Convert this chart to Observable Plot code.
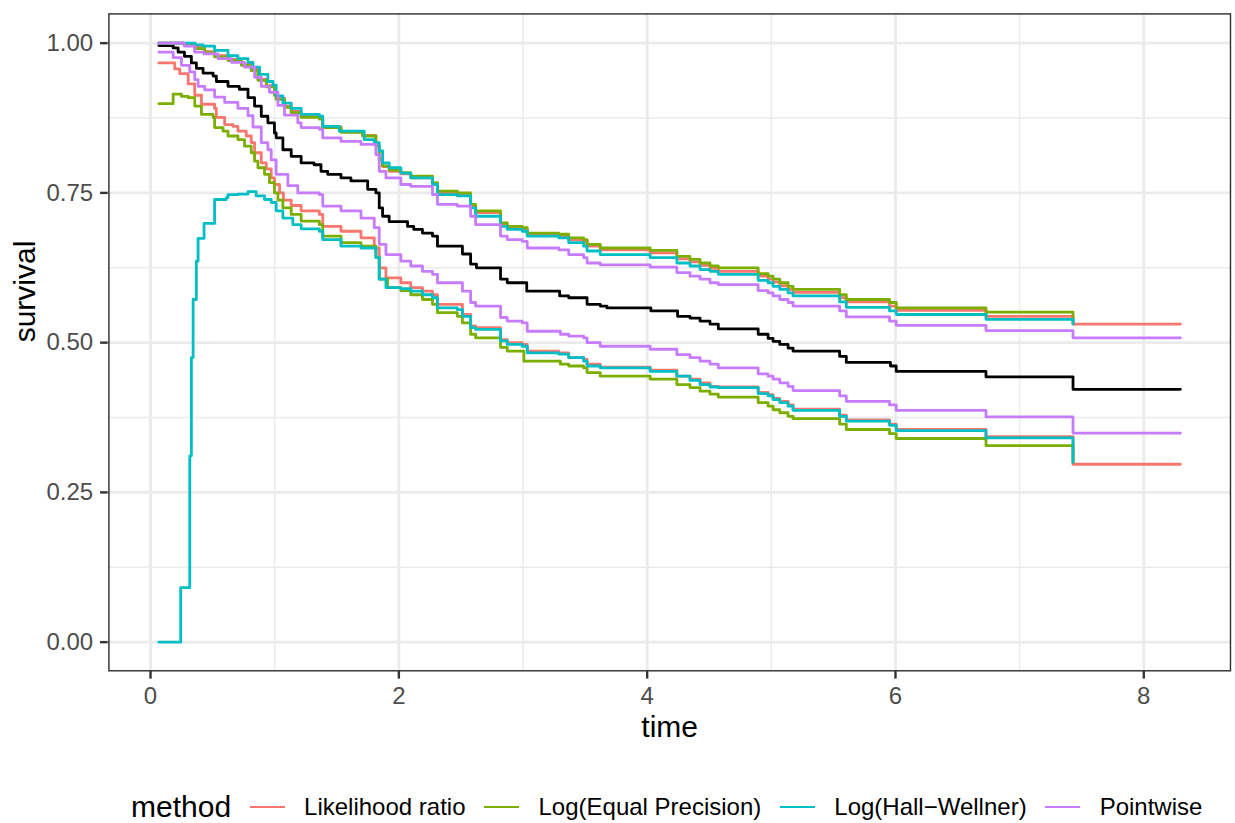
<!DOCTYPE html>
<html>
<head>
<meta charset="utf-8">
<script src="https://cdn.jsdelivr.net/npm/d3@7"></script>
<script src="https://cdn.jsdelivr.net/npm/@observablehq/plot@0.6"></script>
<style>
  html, body { margin: 0; padding: 0; background: #ffffff; overflow: hidden; }
  #wrap { width: 1235px; font-family: "Liberation Sans", Arial, sans-serif; }
  #legend { display: flex; align-items: center; height: 74px; padding-left: 131px; box-sizing: border-box; }
  #legend .title { font-size: 30px; color: #000; margin-right: 14px; line-height: 0.95; }
  #legend .key { width: 44px; height: 20px; display: flex; align-items: center; justify-content: center; }
  #legend .key span { display: block; width: 35px; height: 2.9px; }
  #legend .lab { font-size: 24px; color: #000; margin-left: 15px; margin-right: 14px; line-height: 1; white-space: nowrap; }
</style>
</head>
<body>
<div id="wrap">
  <div id="chart"></div>
  <div id="legend"></div>
</div>
<script>
// ---------- data ----------
const methods = ["Likelihood ratio", "Log(Equal Precision)", "Log(Hall−Wellner)", "Pointwise"];
const methodColors = ["#F8766D", "#7CAE00", "#00BFC4", "#C77CFF"];

const xTicks = [0, 2, 4, 6, 8];
const xMinorTicks = [1, 3, 5, 7];
const yTicks = [0, 0.25, 0.5, 0.75, 1];
const yMinorTicks = [0.125, 0.375, 0.625, 0.875];

// Kaplan–Meier estimate (black)
const km = [[0.067,0.996],[0.182,0.992],[0.222,0.985],[0.273,0.978],[0.329,0.967],[0.369,0.958],[0.423,0.950],[0.504,0.945],[0.530,0.936],[0.624,0.928],[0.715,0.923],[0.785,0.909],[0.838,0.895],[0.892,0.878],[0.945,0.867],[0.998,0.850],[1.012,0.842],[1.066,0.822],[1.133,0.811],[1.213,0.800],[1.317,0.797],[1.373,0.786],[1.427,0.781],[1.534,0.775],[1.614,0.770],[1.749,0.756],[1.815,0.750],[1.842,0.725],[1.869,0.711],[1.922,0.702],[2.070,0.694],[2.120,0.689],[2.190,0.683],[2.271,0.678],[2.311,0.661],[2.512,0.648],[2.578,0.631],[2.625,0.625],[2.819,0.606],[2.873,0.600],[3.030,0.586],[3.295,0.578],[3.368,0.575],[3.516,0.564],[3.622,0.561],[3.676,0.558],[4.030,0.553],[4.245,0.544],[4.345,0.541],[4.426,0.536],[4.506,0.531],[4.573,0.523],[4.894,0.514],[4.974,0.507],[5.014,0.502],[5.068,0.497],[5.135,0.491],[5.175,0.486],[5.550,0.477],[5.604,0.467],[5.960,0.461],[6.006,0.452],[6.729,0.443],[7.430,0.422],[8.295,0.422]];

// Likelihood ratio band
const lrLower = [[0.067,0.967],[0.195,0.957],[0.235,0.949],[0.303,0.932],[0.356,0.913],[0.410,0.898],[0.516,0.891],[0.530,0.876],[0.597,0.864],[0.664,0.861],[0.704,0.853],[0.771,0.845],[0.811,0.834],[0.838,0.817],[0.892,0.800],[0.932,0.790],[0.972,0.775],[0.998,0.764],[1.039,0.750],[1.070,0.738],[1.133,0.729],[1.213,0.720],[1.360,0.714],[1.387,0.694],[1.534,0.686],[1.695,0.675],[1.802,0.658],[1.842,0.625],[1.896,0.608],[2.016,0.600],[2.096,0.592],[2.190,0.586],[2.271,0.580],[2.311,0.564],[2.512,0.547],[2.578,0.528],[2.618,0.525],[2.819,0.505],[2.873,0.500],[2.994,0.497],[3.034,0.486],[3.288,0.483],[3.368,0.475],[3.488,0.472],[3.516,0.464],[3.622,0.459],[4.024,0.454],[4.239,0.444],[4.345,0.439],[4.426,0.433],[4.506,0.427],[4.573,0.426],[4.894,0.417],[4.974,0.413],[5.014,0.407],[5.068,0.402],[5.135,0.396],[5.175,0.389],[5.550,0.379],[5.604,0.371],[5.952,0.364],[6.006,0.355],[6.729,0.343],[7.430,0.297],[8.295,0.297]];
const lrUpper = [[0.067,1.000],[0.263,0.999],[0.356,0.993],[0.436,0.986],[0.516,0.979],[0.624,0.973],[0.731,0.965],[0.811,0.956],[0.865,0.940],[0.932,0.929],[0.998,0.915],[1.012,0.908],[1.079,0.895],[1.133,0.886],[1.213,0.878],[1.360,0.874],[1.387,0.860],[1.534,0.852],[1.708,0.846],[1.815,0.829],[1.842,0.805],[1.869,0.794],[1.922,0.786],[2.016,0.782],[2.096,0.775],[2.271,0.764],[2.311,0.750],[2.471,0.747],[2.578,0.728],[2.618,0.717],[2.819,0.697],[2.873,0.691],[2.994,0.689],[3.034,0.680],[3.288,0.678],[3.368,0.672],[3.488,0.669],[3.516,0.661],[3.622,0.655],[4.024,0.650],[4.239,0.640],[4.345,0.635],[4.426,0.629],[4.506,0.624],[4.573,0.619],[4.894,0.611],[4.974,0.606],[5.014,0.601],[5.068,0.595],[5.135,0.589],[5.175,0.584],[5.550,0.575],[5.604,0.568],[5.952,0.561],[6.006,0.554],[6.729,0.544],[7.430,0.531],[8.295,0.531]];

// Log (Equal Precision) band
const epLower = [[0.067,0.899],[0.182,0.915],[0.249,0.911],[0.303,0.909],[0.356,0.895],[0.410,0.881],[0.504,0.876],[0.516,0.859],[0.584,0.853],[0.624,0.845],[0.704,0.839],[0.757,0.828],[0.811,0.817],[0.838,0.803],[0.865,0.792],[0.918,0.781],[0.958,0.767],[0.998,0.750],[1.026,0.738],[1.066,0.725],[1.133,0.714],[1.213,0.703],[1.360,0.697],[1.387,0.678],[1.534,0.667],[1.695,0.661],[1.815,0.642],[1.842,0.606],[1.909,0.592],[2.016,0.587],[2.096,0.580],[2.190,0.572],[2.271,0.564],[2.311,0.550],[2.471,0.544],[2.512,0.533],[2.578,0.514],[2.618,0.508],[2.819,0.492],[2.873,0.486],[3.007,0.469],[3.301,0.464],[3.368,0.461],[3.488,0.458],[3.516,0.450],[3.622,0.444],[4.024,0.439],[4.239,0.430],[4.345,0.425],[4.426,0.419],[4.506,0.414],[4.573,0.409],[4.894,0.400],[4.974,0.394],[5.014,0.388],[5.068,0.383],[5.135,0.377],[5.175,0.373],[5.550,0.364],[5.604,0.355],[5.952,0.348],[6.006,0.340],[6.729,0.328],[7.430,0.300]];
const epUpper = [[0.067,1.000],[0.263,0.998],[0.356,0.991],[0.436,0.984],[0.516,0.977],[0.624,0.971],[0.731,0.963],[0.811,0.954],[0.865,0.938],[0.932,0.927],[0.998,0.913],[1.012,0.906],[1.079,0.893],[1.133,0.884],[1.213,0.876],[1.360,0.873],[1.387,0.859],[1.534,0.851],[1.708,0.845],[1.815,0.828],[1.842,0.805],[1.869,0.795],[1.922,0.788],[2.016,0.784],[2.096,0.778],[2.271,0.767],[2.311,0.753],[2.471,0.750],[2.578,0.731],[2.618,0.720],[2.819,0.700],[2.873,0.694],[2.994,0.692],[3.034,0.683],[3.288,0.681],[3.368,0.675],[3.488,0.672],[3.516,0.664],[3.622,0.658],[4.024,0.654],[4.239,0.644],[4.345,0.639],[4.426,0.633],[4.506,0.628],[4.573,0.625],[4.894,0.615],[4.974,0.611],[5.014,0.606],[5.068,0.600],[5.135,0.594],[5.175,0.589],[5.550,0.580],[5.604,0.572],[5.952,0.567],[6.006,0.558],[6.729,0.551],[7.430,0.532]];

// Log (Hall–Wellner) band
const hwLower = [[0.067,0.000],[0.243,0.091],[0.316,0.311],[0.329,0.475],[0.343,0.572],[0.369,0.636],[0.383,0.674],[0.431,0.699],[0.516,0.739],[0.610,0.742],[0.624,0.747],[0.704,0.748],[0.785,0.752],[0.851,0.745],[0.918,0.739],[0.972,0.734],[1.012,0.720],[1.066,0.708],[1.146,0.697],[1.213,0.690],[1.360,0.686],[1.387,0.672],[1.534,0.661],[1.695,0.658],[1.815,0.642],[1.842,0.606],[1.896,0.592],[2.016,0.590],[2.096,0.586],[2.190,0.580],[2.271,0.575],[2.311,0.558],[2.471,0.555],[2.512,0.544],[2.578,0.525],[2.618,0.522],[2.819,0.503],[2.873,0.497],[2.994,0.494],[3.034,0.483],[3.288,0.481],[3.368,0.475],[3.488,0.469],[3.516,0.461],[3.622,0.458],[4.024,0.452],[4.239,0.444],[4.345,0.437],[4.426,0.430],[4.506,0.426],[4.573,0.425],[4.894,0.415],[4.974,0.411],[5.014,0.405],[5.068,0.400],[5.135,0.394],[5.175,0.387],[5.550,0.377],[5.604,0.369],[5.952,0.362],[6.006,0.353],[6.729,0.341],[7.430,0.300]];
const hwUpper = [[0.067,1.000],[0.360,0.997],[0.423,0.995],[0.516,0.988],[0.624,0.979],[0.704,0.974],[0.785,0.968],[0.825,0.960],[0.878,0.948],[0.945,0.936],[0.986,0.930],[1.012,0.912],[1.066,0.900],[1.133,0.891],[1.213,0.881],[1.360,0.878],[1.387,0.861],[1.520,0.853],[1.721,0.839],[1.802,0.834],[1.842,0.820],[1.869,0.800],[1.922,0.792],[2.016,0.783],[2.096,0.775],[2.271,0.764],[2.311,0.747],[2.471,0.745],[2.578,0.725],[2.618,0.711],[2.819,0.694],[2.873,0.689],[2.994,0.686],[3.034,0.678],[3.288,0.675],[3.368,0.667],[3.488,0.661],[3.516,0.653],[3.622,0.647],[4.024,0.642],[4.239,0.633],[4.345,0.628],[4.426,0.622],[4.506,0.619],[4.573,0.614],[4.894,0.604],[4.974,0.600],[5.014,0.594],[5.068,0.589],[5.135,0.583],[5.175,0.578],[5.550,0.568],[5.604,0.559],[5.952,0.553],[6.006,0.547],[6.729,0.539],[7.430,0.531]];

// Pointwise band
const pwLower = [[0.067,0.985],[0.182,0.976],[0.249,0.963],[0.316,0.952],[0.356,0.939],[0.383,0.928],[0.436,0.922],[0.516,0.910],[0.597,0.901],[0.704,0.891],[0.785,0.879],[0.825,0.860],[0.892,0.834],[0.945,0.822],[0.972,0.805],[1.012,0.781],[1.106,0.762],[1.186,0.750],[1.360,0.747],[1.387,0.728],[1.534,0.720],[1.695,0.708],[1.802,0.692],[1.842,0.664],[1.896,0.647],[2.016,0.636],[2.096,0.628],[2.190,0.619],[2.271,0.614],[2.311,0.600],[2.512,0.586],[2.578,0.567],[2.618,0.561],[2.819,0.542],[2.873,0.536],[2.994,0.533],[3.034,0.519],[3.301,0.514],[3.368,0.511],[3.488,0.508],[3.516,0.500],[3.622,0.494],[4.024,0.489],[4.239,0.480],[4.345,0.475],[4.426,0.469],[4.506,0.464],[4.573,0.458],[4.894,0.448],[4.974,0.444],[5.014,0.439],[5.068,0.433],[5.135,0.427],[5.175,0.420],[5.550,0.411],[5.604,0.402],[5.952,0.396],[6.006,0.387],[6.729,0.376],[7.430,0.349],[8.295,0.349]];
const pwUpper = [[0.067,1.000],[0.273,0.995],[0.356,0.985],[0.431,0.982],[0.544,0.974],[0.651,0.968],[0.757,0.960],[0.838,0.943],[0.892,0.928],[0.958,0.918],[1.026,0.896],[1.079,0.880],[1.186,0.867],[1.213,0.859],[1.360,0.856],[1.387,0.842],[1.534,0.836],[1.695,0.831],[1.815,0.814],[1.842,0.786],[1.896,0.775],[2.016,0.764],[2.096,0.761],[2.271,0.747],[2.311,0.731],[2.471,0.728],[2.578,0.711],[2.618,0.697],[2.819,0.678],[2.873,0.672],[2.994,0.669],[3.034,0.658],[3.288,0.655],[3.368,0.647],[3.488,0.642],[3.516,0.633],[3.622,0.630],[4.024,0.626],[4.239,0.617],[4.345,0.611],[4.426,0.606],[4.506,0.600],[4.573,0.597],[4.894,0.587],[4.974,0.583],[5.014,0.578],[5.068,0.572],[5.135,0.567],[5.175,0.561],[5.550,0.553],[5.604,0.543],[5.952,0.536],[6.006,0.529],[6.729,0.520],[7.430,0.508],[8.295,0.508]];

// ---------- build tables ----------
const bandSets = [
  [methods[0], lrLower, lrUpper],
  [methods[1], epLower, epUpper],
  [methods[2], hwLower, hwUpper],
  [methods[3], pwLower, pwUpper]
];
const bandRows = [];
for (const [method, lower, upper] of bandSets) {
  for (const [bound, arr] of [["lower", lower], ["upper", upper]]) {
    for (const [time, surv] of arr) bandRows.push({method, series: method + "|" + bound, time, surv});
  }
}
const kmRows = km.map(([time, surv]) => ({time, surv}));

const FONT = "'Liberation Sans', Arial, sans-serif";

const chart = Plot.plot({
  width: 1235,
  height: 770,
  marginLeft: 107.7,
  marginRight: 4.3,
  marginTop: 12.7,
  marginBottom: 99,
  style: {fontFamily: FONT, background: "#ffffff", color: "#4D4D4D", overflow: "visible"},
  x: {domain: [-0.341, 8.704]},
  y: {domain: [-0.049, 1.05]},
  color: {domain: methods, range: methodColors},
  marks: [
    Plot.ruleX(xMinorTicks, {stroke: "#EBEBEB", strokeWidth: 1.45}),
    Plot.ruleY(yMinorTicks, {stroke: "#EBEBEB", strokeWidth: 1.45}),
    Plot.ruleX(xTicks, {stroke: "#EBEBEB", strokeWidth: 2.9}),
    Plot.ruleY(yTicks, {stroke: "#EBEBEB", strokeWidth: 2.9}),
    Plot.line(kmRows, {x: "time", y: "surv", stroke: "#000000", strokeWidth: 2.8, curve: "step-after"}),
    Plot.line(bandRows, {x: "time", y: "surv", z: "series", stroke: "method", strokeWidth: 2.8, curve: "step-after"}),
    Plot.frame({stroke: "#333333", strokeWidth: 1.45, inset: 0.72}),
    Plot.axisX({ticks: xTicks, tickSize: 7.6, tickPadding: 7.4, fontSize: 24, stroke: "#333333", strokeWidth: 2.4, fill: "#4D4D4D", tickFormat: d => String(d), label: null}),
    Plot.axisY({ticks: yTicks, tickSize: 7.6, tickPadding: 7.5, fontSize: 24, stroke: "#333333", strokeWidth: 2.4, fill: "#4D4D4D", tickFormat: d => d.toFixed(2), label: null}),
    Plot.text(["time"], {frameAnchor: "bottom", dy: 65, fontSize: 30, fill: "#000000", text: d => d}),
    Plot.text(["survival"], {frameAnchor: "left", dx: -83, rotate: -90, fontSize: 30, fill: "#000000", text: d => d})
  ]
});
document.getElementById("chart").appendChild(chart);

// ---------- legend ----------
const legend = document.getElementById("legend");
const t = document.createElement("div");
t.className = "title";
t.textContent = "method";
legend.appendChild(t);
methods.forEach((m, i) => {
  const k = document.createElement("div");
  k.className = "key";
  const s = document.createElement("span");
  s.style.background = methodColors[i];
  k.appendChild(s);
  legend.appendChild(k);
  const l = document.createElement("div");
  l.className = "lab";
  l.textContent = m;
  if (i === methods.length - 1) l.style.marginRight = "0px";
  legend.appendChild(l);
});
</script>
</body>
</html>
